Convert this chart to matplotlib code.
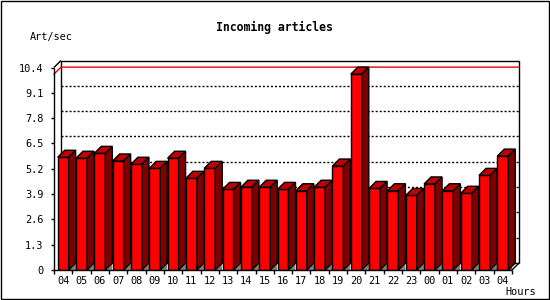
"""Incoming articles per hour, pseudo-3D bar chart."""

import matplotlib

matplotlib.use("Agg")
import matplotlib.pyplot as plt
from matplotlib.patches import Polygon, Rectangle

hours = ["04", "05", "06", "07", "08", "09", "10", "11", "12", "13", "14", "15", "16",
         "17", "18", "19", "20", "21", "22", "23", "00", "01", "02", "03", "04"]
rates = [5.79, 5.74, 5.99, 5.60, 5.43, 5.22, 5.74, 4.71, 5.22, 4.14, 4.25, 4.25, 4.14,
         4.07, 4.25, 5.34, 10.06, 4.19, 4.07, 3.83, 4.42, 4.07, 3.94, 4.86, 5.85]
y_ticks = [0, 1.3, 2.6, 3.9, 5.2, 6.5, 7.8, 9.1, 10.4]
y_labels = ["0", "1.3", "2.6", "3.9", "5.2", "6.5", "7.8", "9.1", "10.4"]

W, H = 550, 300
MONO = "DejaVu Sans Mono"

fig = plt.figure(figsize=(W / 100, H / 100), dpi=100)
# front plane of the plot, in pixels: x 54..512, y 270 (0) .. 67.5 (10.4)
ax = fig.add_axes([54 / W, 30 / H, 458 / W, 202.5 / H])
n = len(rates)
ymax = y_ticks[-1]
ax.set_xlim(0, n)
ax.set_ylim(0, ymax)
for s in ax.spines.values():
    s.set_visible(False)

# depth offset (7 px) in data units
dx = 7 / (458 / n)
dy = 7 / (202.5 / ymax)

line_kw = dict(color="black", lw=1, clip_on=False, solid_capstyle="butt")
# back frame
ax.plot([dx, dx, n + dx, n + dx], [dy, ymax + dy, ymax + dy, dy], zorder=1, **line_kw)
ax.plot([dx, n + dx], [dy, dy], zorder=1, **line_kw)
ax.plot([0, dx], [ymax, ymax + dy], zorder=1, **line_kw)
# front axes
ax.plot([0, 0], [0, ymax], zorder=5, **line_kw)
ax.plot([0, n], [0, 0], zorder=5, **line_kw)
ax.plot([n, n + dx], [0, dy], zorder=5, **line_kw)

# dotted grid on the back wall
for v in y_ticks[1:-1]:
    ax.plot([dx, n + dx], [v + dy, v + dy], color="black", lw=1,
            dashes=(1.45, 1.45), clip_on=False, zorder=1)

# max line
vmax = max(rates)
ax.plot([0, dx, n + dx], [vmax, vmax + dy, vmax + dy], color="#ee0000", lw=1,
        clip_on=False, zorder=1.5)

# bars
bw = 0.6
for i, v in enumerate(rates):
    x0 = i + 0.5 - bw / 2
    x1 = x0 + bw
    ax.add_patch(Polygon([(x1, 0), (x1 + dx, 0), (x1 + dx, dy)], closed=True,
                         facecolor="#808080", edgecolor="none", zorder=2))
    ax.add_patch(Rectangle((x0, 0), bw, v, facecolor="#ff0000",
                           edgecolor="black", lw=1, zorder=3))
    ax.add_patch(Polygon([(x0, v), (x1, v), (x1 + dx, v + dy), (x0 + dx, v + dy)],
                         closed=True, facecolor="#c00000", edgecolor="black",
                         lw=1, zorder=3, clip_on=False))
    ax.add_patch(Polygon([(x1, 0), (x1 + dx, dy), (x1 + dx, v + dy), (x1, v)],
                         closed=True, facecolor="#800000", edgecolor="black",
                         lw=1, zorder=3, clip_on=False))

# ticks
ax.set_yticks(y_ticks)
ax.set_yticklabels(y_labels, fontsize=7.4, family=MONO)
ax.tick_params(axis="y", length=2.2, width=1, pad=5.5)
ax.set_xticks(range(n + 1))
ax.set_xticklabels([])
ax.tick_params(axis="x", which="major", length=3, width=1)
ax.set_xticks([i + 0.5 for i in range(n)], minor=True)
ax.set_xticklabels(hours, minor=True, fontsize=7.4, family=MONO)
ax.tick_params(axis="x", which="minor", length=0, pad=4)

fig.text(274 / W, 1 - 27 / H, "Incoming articles", ha="center", va="center",
         fontsize=8.3, fontweight="bold", family=MONO)
fig.text(30 / W, 1 - 37 / H, "Art/sec", ha="left", va="center", fontsize=7.4, family=MONO)
fig.text(505 / W, 1 - 292 / H, "Hours", ha="left", va="center", fontsize=7.4, family=MONO)

fig.patches.append(Rectangle((0.5 / W, 1.5 / H), 548 / W, 298 / H, transform=fig.transFigure,
                             fill=False, edgecolor="black", lw=1))

fig.savefig("out.png", dpi=100)
